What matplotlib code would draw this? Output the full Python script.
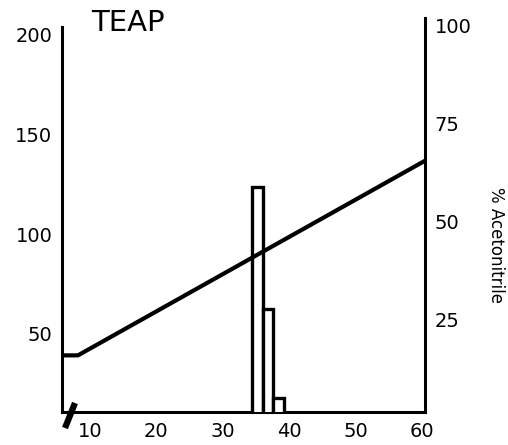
import matplotlib
matplotlib.use("Agg")
import matplotlib.pyplot as plt

# Data
title = "TEAP"
x_ticks = [10, 20, 30, 40, 50, 60]
left_ticks = [50, 100, 150, 200]
right_ticks = [25, 50, 75, 100]
right_label = "% Acetonitrile"

# gradient (% acetonitrile, right axis)
grad_time = [5.8, 8.2, 60.45]
grad_pct = [16, 16, 65.5]

# fraction bars (left axis)
bar_time = [35.25, 36.8, 38.4]
bar_height = [123.6, 62.3, 17.6]
bar_width = 1.6

W, H = 508, 445
fig = plt.figure(figsize=(W / 100, H / 100), dpi=100)
L, R, B, T = 62, 425, 412, 18
ax = fig.add_axes([L / W, 1 - B / H, (R - L) / W, (B - T) / H])
ax2 = ax.twinx()

ax.set_xlim(5.8, 60.45)
ax.set_ylim(10.6, 208.5)
ax2.set_ylim(1.6, 101.8)

ax.bar(bar_time, bar_height, width=bar_width, bottom=0, facecolor="white",
       edgecolor="black", linewidth=2.4, zorder=3)
ax2.plot(grad_time, grad_pct, color="black", linewidth=3.0,
         solid_capstyle="butt", zorder=4)

for a in (ax, ax2):
    a.spines["top"].set_visible(False)
    for s in ("left", "right", "bottom"):
        a.spines[s].set_linewidth(2.2)
ax.spines["left"].set_bounds(10.6, 204)
ax.spines["right"].set_visible(False)
ax2.spines["left"].set_visible(False)
ax2.spines["bottom"].set_visible(False)

ax.set_xticks(x_ticks)
ax.set_xticklabels([str(v) for v in x_ticks])
ax.set_yticks(left_ticks)
ax.set_yticklabels([str(v) for v in left_ticks])
ax2.set_yticks(right_ticks)
ax2.set_yticklabels([str(v) for v in right_ticks])

ax.tick_params(axis="both", length=0, labelsize=14, pad=7)
ax2.tick_params(axis="y", length=0, labelsize=14, pad=7)

fig.text(496 / W, 1 - 245 / H, right_label, rotation=-90, fontsize=12,
         ha="center", va="center")

fig.text(128 / W, 1 - 23 / H, title, fontsize=21, ha="center", va="center")

# axis break mark at origin
ax.plot([(65 - L) / (R - L), (75 - L) / (R - L)],
        [(B - 428) / (B - T), (B - 403) / (B - T)],
        transform=ax.transAxes, color="black", linewidth=4.5,
        solid_capstyle="butt", clip_on=False, zorder=5)

ax.set_zorder(ax2.get_zorder() - 1)
ax.patch.set_visible(False)
ax2.patch.set_visible(False)

fig.savefig("out.png", dpi=100, facecolor="white")
